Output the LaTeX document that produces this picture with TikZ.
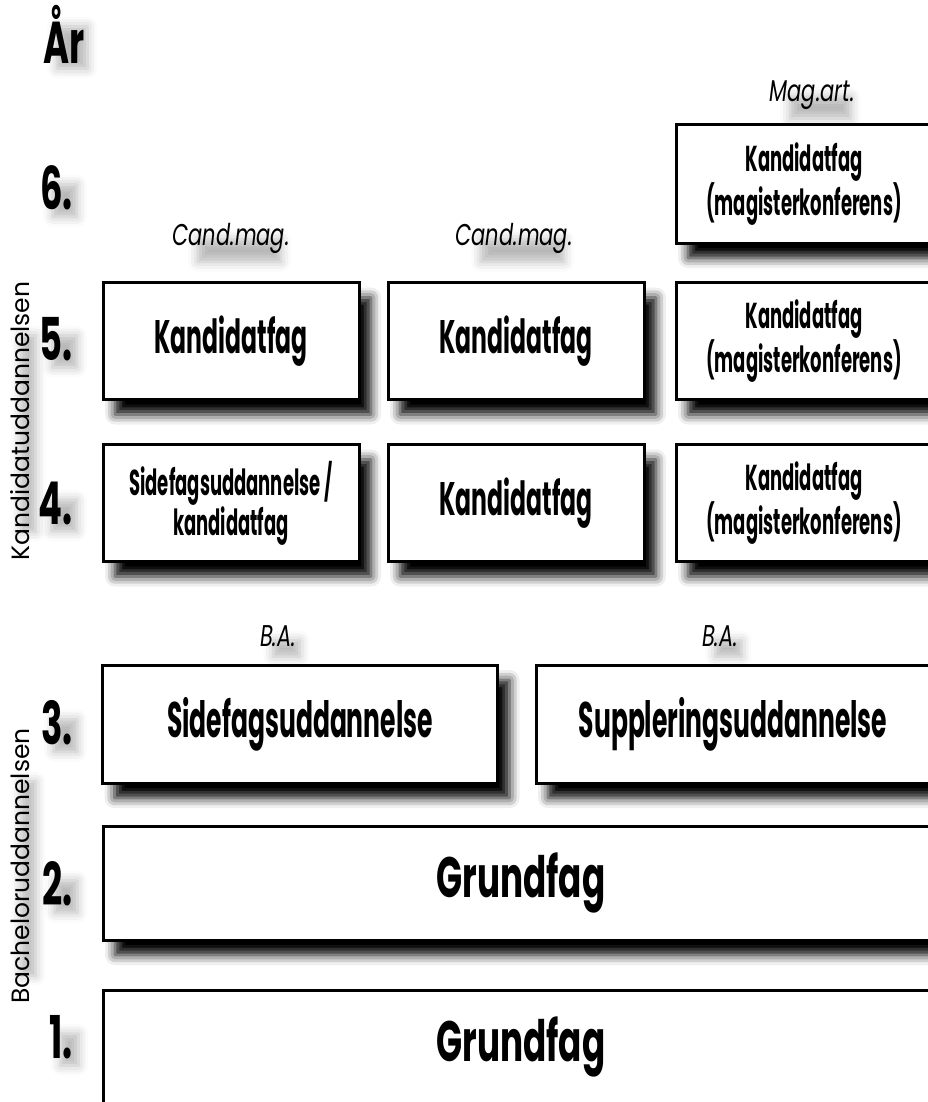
\documentclass[tikz,border=0pt]{standalone}
\usepackage{fontspec}
\setmainfont{Poppins}[FakeStretch=0.5]
\newfontfamily\widefont{Poppins}
\newfontfamily\numfont{Poppins}[FakeStretch=0.6]
\newfontfamily\degfont{Poppins}[FakeStretch=0.7]
\usetikzlibrary{shadows.blur}

\begin{document}
\begin{tikzpicture}[x=1pt,y=-1pt,
	box/.style={draw,line width=3pt,fill=white,align=center,inner sep=0pt,minimum width=256pt,minimum height=117pt,
		font=\bfseries\fontsize{47}{52}\selectfont,
		blur shadow={shadow xshift=12pt,shadow yshift=-15pt,shadow blur radius=10pt,shadow opacity=100}},
	twoline/.style={font=\bfseries\fontsize{36}{38}\selectfont},
	txtshadow/.style={blur shadow={shadow xshift=12pt,shadow yshift=-18pt,shadow scale=0.7,shadow blur radius=14pt,shadow opacity=28}},
	year/.style={font=\numfont\bfseries\fontsize{59}{59}\selectfont,anchor=east,inner sep=1pt,txtshadow},
	degree/.style={font=\degfont\itshape\fontsize{30}{32}\selectfont,inner sep=1pt,txtshadow},
	phase/.style={font=\widefont\fontsize{25}{27}\selectfont,rotate=90,inner sep=1pt,txtshadow}]
	\clip (0,0) rectangle (928,1102);
	\node [font=\numfont\bfseries\fontsize{59}{59}\selectfont,anchor=base west,inner sep=1pt,txtshadow] (yr) at (42,64) {År};
	\node [year] (n6) at (74,188) {6.};
	\node [year] (n5) at (74,339) {5.};
	\node [year] (n4) at (74,503) {4.};
	\node [year] (n3) at (74,723) {3.};
	\node [year] (n2) at (74,884) {2.};
	\node [year] (n1) at (74,1037) {1.};
	\node [phase] (kandlbl) at (20,421) {Kandidatuddannelsen};
	\node [phase] (bachlbl) at (20,866) {Bacheloruddannelsen};
	\node [degree] (magart) at (812,95) {Mag.art.};
	\node [degree] (cand5a) at (231,238) {Cand.mag.};
	\node [degree] (cand5b) at (514,238) {Cand.mag.};
	\node [degree] (ba3a) at (278,636) {B.A.};
	\node [degree] (ba3b) at (720,636) {B.A.};
	\node [box,twoline,minimum height=118pt] (kand6) at (804,184) {Kandidatfag\\(magisterkonferens)};
	\node [box] (kand5a) at (231,341) {Kandidatfag};
	\node [box] (kand5b) at (516,341) {Kandidatfag};
	\node [box,twoline] (kand5c) at (804,341) {Kandidatfag\\(magisterkonferens)};
	\node [box,twoline] (side4) at (231,503) {Sidefagsuddannelse /\\kandidatfag};
	\node [box] (kand4b) at (516,503) {Kandidatfag};
	\node [box,twoline] (kand4c) at (804,503) {Kandidatfag\\(magisterkonferens)};
	\node [box,minimum width=395pt,minimum height=118pt,font=\bfseries\fontsize{50}{54}\selectfont] (side3) at (300,724) {Sidefagsuddannelse};
	\node [box,minimum width=394pt,minimum height=118pt,font=\bfseries\fontsize{50}{54}\selectfont] (suppl3) at (733,724) {Suppleringsuddannelse};
	\node [box,minimum width=836pt,minimum height=114pt,font=\numfont\bfseries\fontsize{57}{60}\selectfont] (grund2) at (521,883) {Grundfag};
	\node [box,minimum width=836pt,minimum height=114pt,font=\numfont\bfseries\fontsize{57}{60}\selectfont] (grund1) at (521,1047) {Grundfag};
\end{tikzpicture}
\end{document}
